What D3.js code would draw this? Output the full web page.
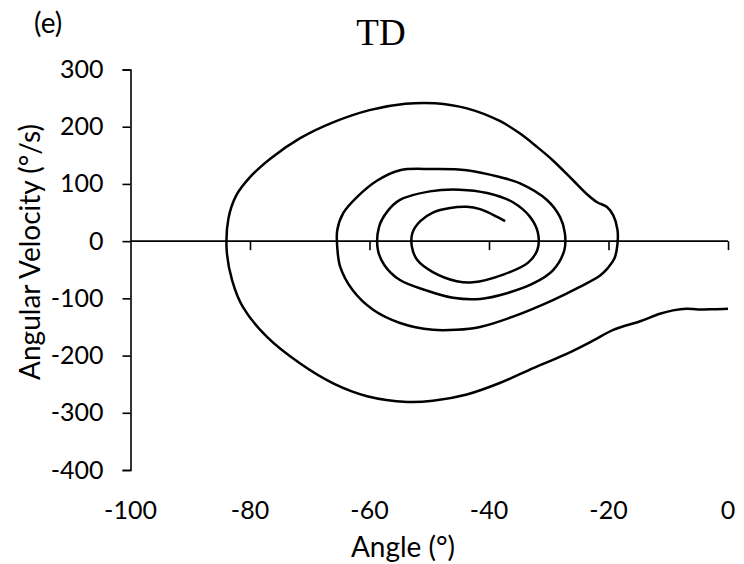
<!DOCTYPE html>
<html>
<head>
<meta charset="utf-8">
<script src="https://cdn.jsdelivr.net/npm/d3@7/dist/d3.min.js"></script>
<style>
  html, body { margin: 0; padding: 0; background: #fff; }
  svg text { font-family: Lato, "Open Sans", sans-serif; fill: #000; }
</style>
</head>
<body>
<svg id="chart" width="744" height="564"></svg>
<script>
// Phase-plane trajectory: joint angle (°) against angular velocity (°/s)
const angle = [
  0, -2.5, -5, -7, -9.2, -11.4, -14.7, -19.2, -22.6, -27, -32.6, -38.2, -43.7, -49.4, -53.7,
  -60.4, -66, -71.6, -77.2, -81.2, -83, -83.9, -83.6, -82.3, -80, -76.5, -71.6, -66, -60,
  -54, -49, -43.7, -38.2, -34.8, -32, -29.3, -25.9, -23.6, -21.9, -20.3, -19.2, -18.5, -18.5,
  -19.0, -20.2, -21.4, -24.8, -29.3, -36, -41.5, -45.5, -49.4, -54.9, -59.4, -62.8, -64.9, -65.4,
  -65.4, -64.4, -62.1, -58.7, -54.9, -49.4, -43.7, -38.2, -34.8, -30.3, -28.1, -27.3, -27.4,
  -29.3, -32.6, -37, -41.5, -46, -50.5, -54.9, -57.5, -58.6, -58.4, -57, -54.9, -49.9, -44.9,
  -40.3, -36, -33.1, -31.8, -31.9, -33.5, -37.5, -42.7, -45.4, -49.4, -52, -52.9, -52.8, -51.5,
  -49.4, -46.5, -43.7, -41.5, -39.3, -37.3
];
const velocity = [
  -118, -119, -119.5, -118, -121, -127, -140, -155, -174, -197, -222, -248, -268, -279, -281,
  -271, -249, -214, -167, -115, -68, -16, 40, 80, 112, 145, 180, 208, 229,
  240, 241, 232, 210, 188, 165, 141, 106, 82, 68, 60, 45, 20, -5,
  -30, -48, -60, -80, -103, -132, -150, -155, -155, -143, -120, -86, -45, -10,
  19, 49, 77, 106, 124, 126, 124, 112, 101, 72, 42, 14, -16,
  -51, -74, -91, -101, -99, -86, -68, -42, -15, 25, 52, 72, 87, 90,
  84, 68, 42, 14, -15, -38, -58, -72, -70, -54, -33, -10, 15, 35,
  50, 58, 60, 56, 46, 35
];

const xTicks = [-100, -80, -60, -40, -20, 0];
const yTicks = [300, 200, 100, 0, -100, -200, -300, -400];

const svg = d3.select("#chart");
const x = d3.scaleLinear().domain([-100, 0]).range([130.5, 728]);
const y = d3.scaleLinear().domain([-400, 300]).range([470, 69.5]);

const fmt = d => d < 0 ? "-" + Math.abs(d) : String(d);

// Title and panel tag
svg.append("text").attr("x", 381).attr("y", 45).attr("text-anchor", "middle")
  .style("font-family", "'Liberation Serif', 'Times New Roman', serif").style("font-size", "37px")
  .text("TD");
svg.append("text").attr("x", 34).attr("y", 33).style("font-size", "28px").text("(e)");

// Y axis on the left edge of the plot
const yAxis = d3.axisLeft(y).tickValues(yTicks).tickSize(8).tickPadding(19).tickFormat(fmt);
const gy = svg.append("g").attr("transform", `translate(${x(-100)},0)`).call(yAxis);
gy.select(".domain").attr("stroke", "#000").attr("stroke-width", 1.6);
gy.selectAll(".tick line").attr("stroke", "#000").attr("stroke-width", 1.6);
gy.selectAll(".tick text").style("font-size", "25px").style("font-family", "Lato, sans-serif");

// X axis line crosses at zero velocity; tick labels sit below the plot
const xAxis = d3.axisBottom(x).tickValues(xTicks).tickSize(9).tickFormat("");
const gx = svg.append("g").attr("transform", `translate(0,${y(0)})`).call(xAxis);
gx.select(".domain").attr("stroke", "#000").attr("stroke-width", 1.6).attr("d", `M${x(-100)},0H${x(0)}`);
gx.selectAll(".tick line").attr("stroke", "#000").attr("stroke-width", 1.6);
gx.selectAll(".tick").filter(d => d === -100).select("line").remove();

svg.append("g").selectAll("text").data(xTicks).join("text")
  .attr("x", d => x(d)).attr("y", 519).attr("text-anchor", "middle")
  .style("font-size", "25px")
  .text(fmt);

// Axis titles
svg.append("text").attr("x", 403).attr("y", 557).attr("text-anchor", "middle")
  .style("font-size", "28px").text("Angle (°)");
svg.append("text").attr("transform", "translate(40,252) rotate(-90)").attr("text-anchor", "middle")
  .style("font-size", "28px").text("Angular Velocity (°/s)");

// Trajectory
const pts = angle.map((a, i) => [a, velocity[i]]);
const line = d3.line().x(d => x(d[0])).y(d => y(d[1])).curve(d3.curveCatmullRom.alpha(0.5));
svg.append("path").datum(pts).attr("d", line)
  .attr("fill", "none").attr("stroke", "#000").attr("stroke-width", 2.5)
  .attr("stroke-linejoin", "round").attr("stroke-linecap", "butt");
</script>
</body>
</html>
